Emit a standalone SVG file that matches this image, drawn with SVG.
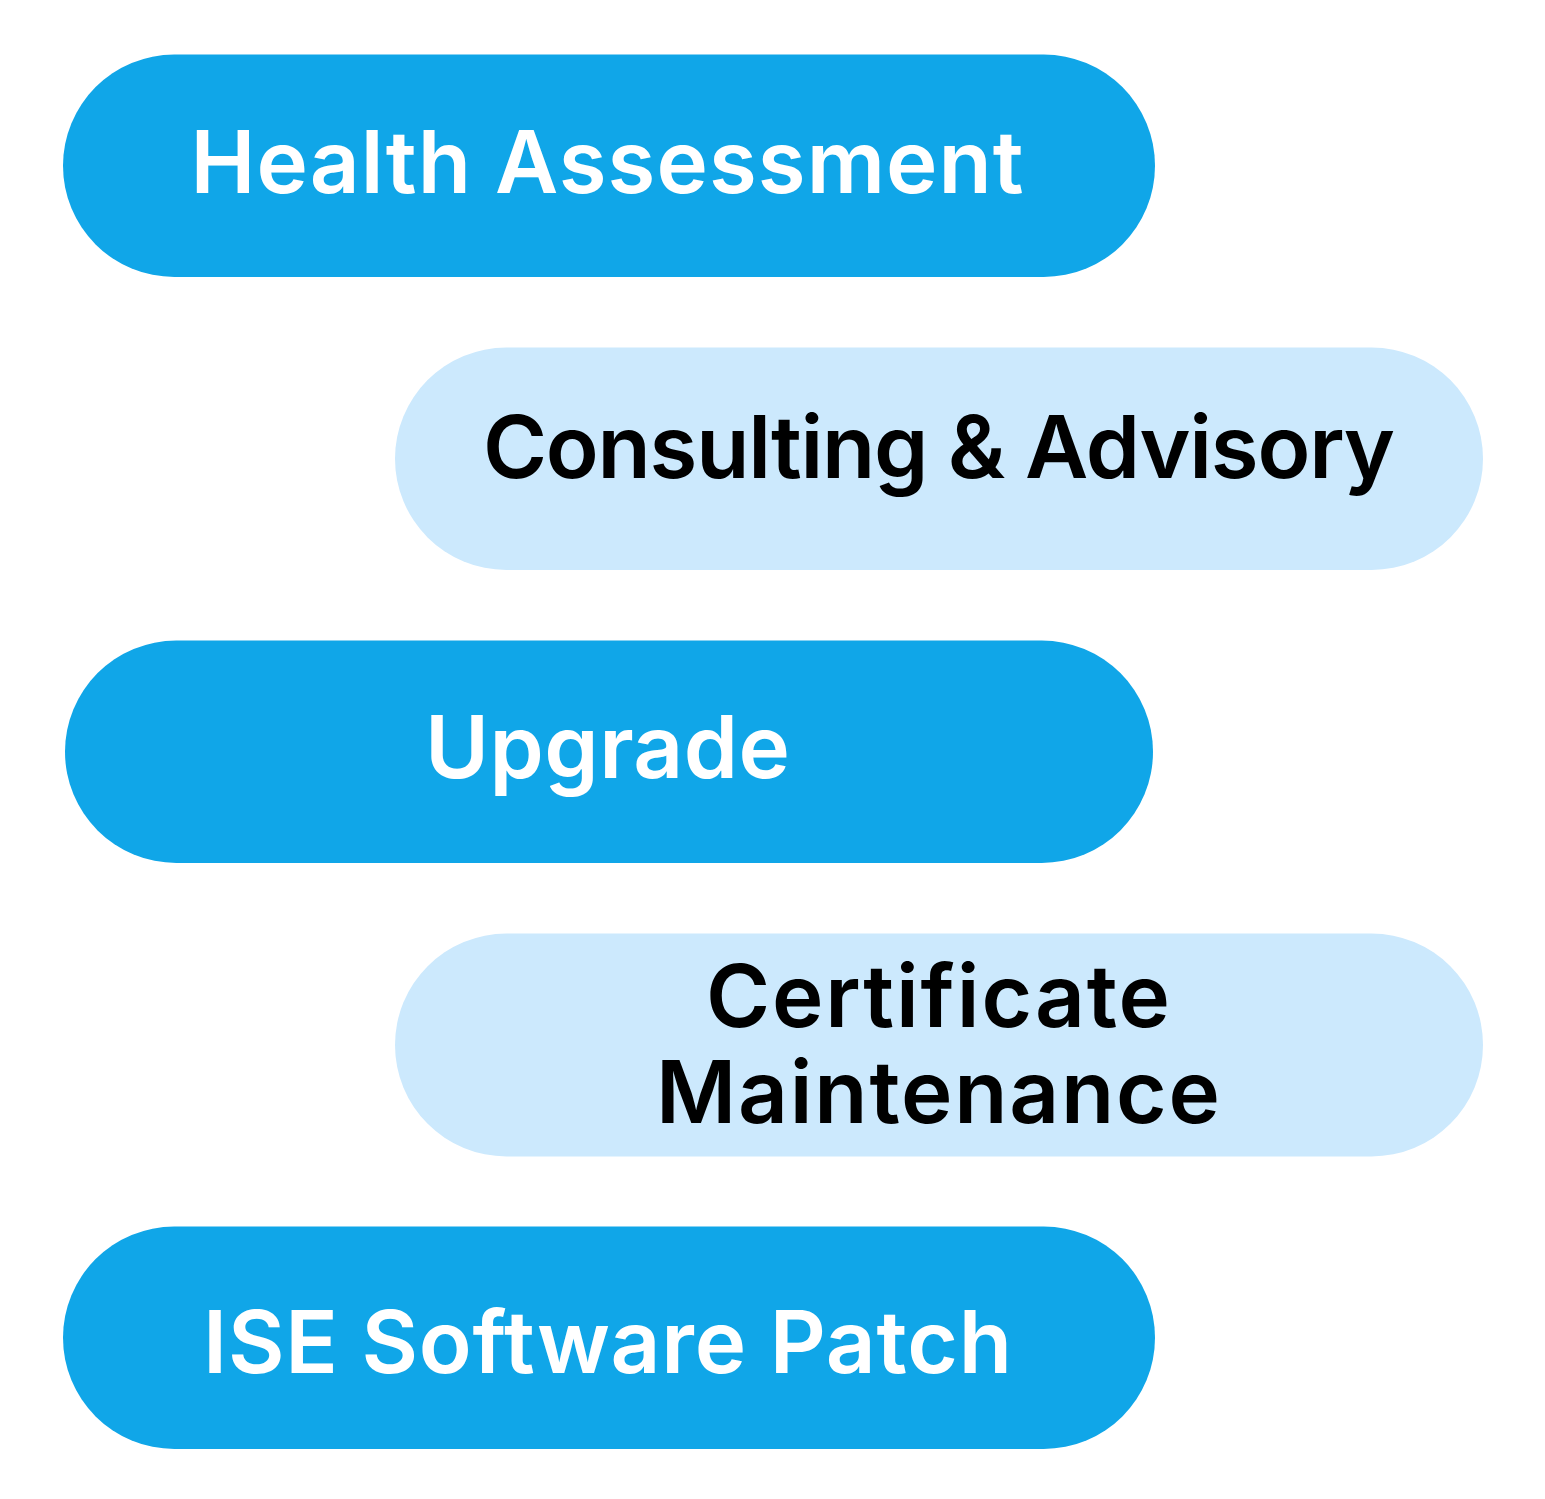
<svg xmlns="http://www.w3.org/2000/svg" width="1545" height="1499" viewBox="0 0 1545 1499">
<style>
.dark{fill:#10A6E8}
.light{fill:#CCE9FD}
.t{font-family:Inter,"DejaVu Sans","Liberation Sans",sans-serif;font-weight:600;font-size:87px;text-anchor:middle}
.w{fill:#FFFFFF}
.b{fill:#000000}
</style>
<rect width="1545" height="1499" fill="#FFFFFF"/>
<g id="health-assessment">
<rect class="dark" x="63" y="54.5" width="1092" height="222.5" rx="111.25"/>
<text class="t w" x="607" y="192.5" textLength="833" lengthAdjust="spacing">Health Assessment</text>
</g>
<g id="consulting-advisory">
<rect class="light" x="395" y="347.5" width="1088" height="222.5" rx="111.25"/>
<text class="t b" x="939" y="478" textLength="912" lengthAdjust="spacing">Consulting &amp; Advisory</text>
</g>
<g id="upgrade">
<rect class="dark" x="65" y="640.5" width="1088" height="222.5" rx="111.25"/>
<text class="t w" x="607.5" y="778" textLength="365" lengthAdjust="spacing">Upgrade</text>
</g>
<g id="certificate-maintenance">
<rect class="light" x="395" y="933.5" width="1088" height="223" rx="111.5"/>
<text class="t b" x="938" y="1027" textLength="464" lengthAdjust="spacing">Certificate</text>
<text class="t b" x="938" y="1123" textLength="564" lengthAdjust="spacing">Maintenance</text>
</g>
<g id="ise-software-patch">
<rect class="dark" x="63" y="1226.5" width="1092" height="222.5" rx="111.25"/>
<text class="t w" x="607.5" y="1373" textLength="809" lengthAdjust="spacing">ISE Software Patch</text>
</g>
<g id="connectors"></g>
</svg>
